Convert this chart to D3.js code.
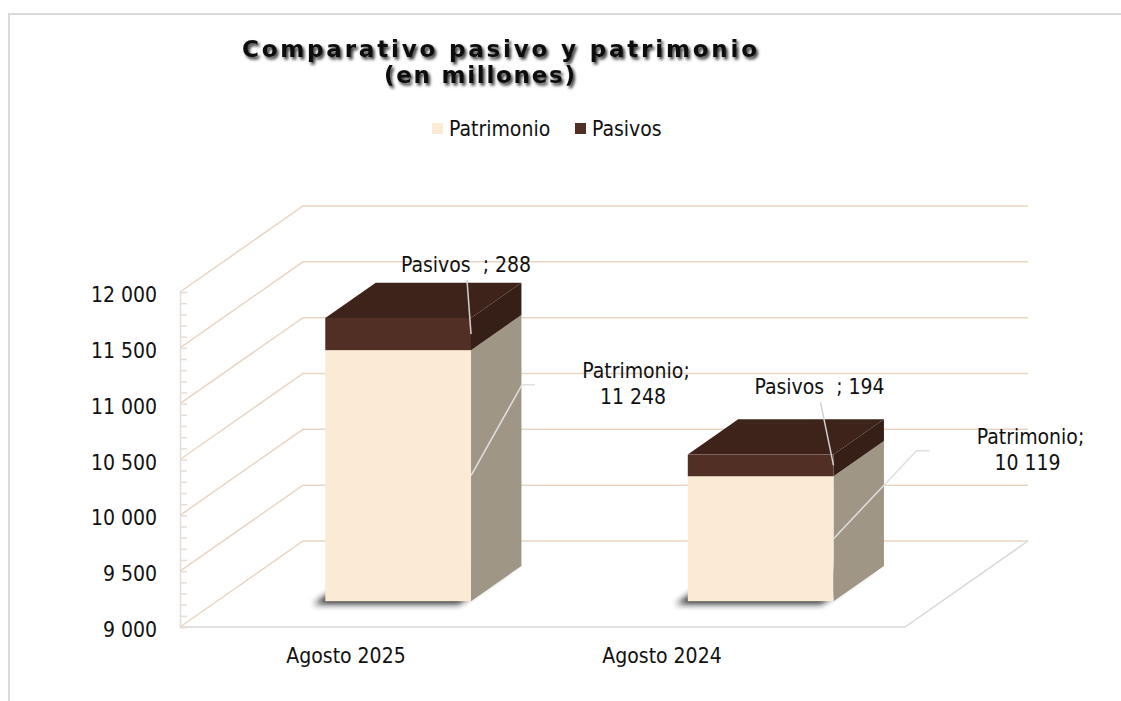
<!DOCTYPE html>
<html>
<head>
<meta charset="utf-8">
<script src="https://cdn.jsdelivr.net/npm/d3@7"></script>
<style>
  body { margin: 0; background: #fff; }
  svg { display: block; }
  text { font-family: "DejaVu Sans Condensed", "DejaVu Sans", sans-serif; font-stretch: condensed; fill: #111; white-space: pre; }
  .title { font-family: "DejaVu Sans", sans-serif; font-stretch: normal; font-weight: bold; font-size: 23px; }
</style>
</head>
<body>
<div class="graphContainer"></div>
<script>
// data
var categories = ["Agosto 2025", "Agosto 2024"];
var seriesNames = ["Patrimonio", "Pasivos"];
var patrimonio = [11248, 10119];
var pasivos = [288, 194];
var yTicks = [9000, 9500, 10000, 10500, 11000, 11500, 12000];

var width = 1121;
var height = 701;

var colors = {
  Patrimonio: { front: "#fcebd4", side: "#a09686", top: "#efdcc2" },
  Pasivos: { front: "#512f25", side: "#361f17", top: "#3e231a" }
};

var fmt = d3.formatLocale({ decimal: ",", thousands: " ", grouping: [3], currency: ["", ""] }).format(",d");

// plot frame (front plane) and depth
var left = 180, right = 905;
var DX = 123, DY = -86;      // full depth offset
var d0 = 0.3, d1 = 0.71;     // bar depth range

var svg = d3.select(".graphContainer").append("svg")
  .attr("width", width).attr("height", height);

var defs = svg.append("defs");
var ts = defs.append("filter").attr("id", "tshadow").attr("x", "-10%").attr("y", "-30%").attr("width", "120%").attr("height", "180%");
ts.append("feDropShadow").attr("dx", 2).attr("dy", 2.5).attr("stdDeviation", 1.8).attr("flood-color", "#000").attr("flood-opacity", 0.8);
var bs = defs.append("filter").attr("id", "bshadow").attr("x", "-20%").attr("y", "-50%").attr("width", "140%").attr("height", "200%");
bs.append("feGaussianBlur").attr("stdDeviation", 3);

// chart border
svg.append("path")
  .attr("d", "M9," + height + "V14H" + width)
  .attr("fill", "none").attr("stroke", "#d9d9d9").attr("stroke-width", 2);

var y = d3.scaleLinear().domain([9000, 12000]).range([627, 292]);
var x = d3.scaleBand().domain(categories).range([left, right]).paddingInner(0.598).paddingOuter(0.299);
var xLabel = d3.scaleBand().domain(categories).range([188, 820]);

function P(px, py, d) { return [px + d * DX, py + d * DY]; }
function poly(pts) { return "M" + pts.map(function (p) { return p[0] + "," + p[1]; }).join("L") + "Z"; }

// walls: left wall diagonals + back wall lines
var grid = svg.append("g");
yTicks.forEach(function (v) {
  var a = P(left, y(v), 0), b = P(left, y(v), 1), c = P(right, y(v), 1);
  grid.append("path")
    .attr("d", "M" + a + "L" + b + "L" + c)
    .attr("fill", "none").attr("stroke", "#e8d6c2").attr("stroke-width", 1.5);
});

// floor edges
var f1 = P(left, y(9000), 0), f2 = P(right, y(9000), 0), f3 = P(right, y(9000), 1);
svg.append("path")
  .attr("d", "M" + f1 + "L" + f2 + "L" + f3)
  .attr("fill", "none").attr("stroke", "#d9d9d9").attr("stroke-width", 1.5);

// y axis: line with minor ticks
var minor = d3.range(9000, 12001, 100);
svg.append("g")
  .attr("transform", "translate(" + left + ",0)")
  .call(d3.axisRight(y).tickValues(minor).tickSize(7).tickFormat(""))
  .call(function (g) {
    g.selectAll("line").attr("stroke", "#e4ded6").attr("stroke-width", 1.5);
    g.select(".domain").attr("stroke", "#e4ded6").attr("stroke-width", 1.5);
  });

svg.append("g")
  .attr("transform", "translate(" + left + ",0)")
  .call(d3.axisLeft(y).tickValues(yTicks).tickSize(0).tickPadding(23).tickFormat(fmt))
  .call(function (g) {
    g.select(".domain").remove();
    g.selectAll("text").attr("dy", null).attr("y", 9.5)
      .style("font-size", "21px").style("fill", "#111")
      .style("font-family", "'DejaVu Sans Condensed', 'DejaVu Sans', sans-serif");
  });

// x axis labels
svg.append("g")
  .attr("transform", "translate(0," + 663 + ")")
  .call(d3.axisBottom(xLabel).tickSize(0).tickPadding(0))
  .call(function (g) {
    g.select(".domain").remove();
    g.selectAll("text").attr("dy", null).attr("y", 0)
      .style("font-size", "21px").style("fill", "#111")
      .style("font-family", "'DejaVu Sans Condensed', 'DejaVu Sans', sans-serif");
  });

// stacked data
var table = categories.map(function (c, i) { return { cat: c, Patrimonio: patrimonio[i], Pasivos: pasivos[i] }; });
var stacked = d3.stack().keys(seriesNames)(table.map(function (r) {
  return { cat: r.cat, Patrimonio: r.Patrimonio - 9000, Pasivos: r.Pasivos };
}));

var bw = x.bandwidth();

// bar shadows
table.forEach(function (r) {
  var xl = x(r.cat), xr = xl + bw, yb = y(9000);
  var pts = [P(xl, yb, d0), P(xr, yb, d0), P(xr, yb, d1), P(xl, yb, d1)]
    .map(function (p) { return [p[0] - 12, p[1] + 3]; });
  svg.append("path").attr("d", poly(pts)).attr("fill", "#1a1a1a").attr("opacity", 0.9).attr("filter", "url(#bshadow)");
});

// bars
var bars = svg.append("g");
table.forEach(function (r, i) {
  var xl = x(r.cat), xr = xl + bw;
  stacked.forEach(function (s, k) {
    var c = colors[s.key];
    var v0 = s[i][0] + 9000, v1 = s[i][1] + 9000;
    var yb = y(v0), yt = y(v1);
    // side face
    bars.append("path")
      .attr("d", poly([P(xr, yt, d0), P(xr, yb, d0), P(xr, yb, d1), P(xr, yt, d1)]))
      .attr("fill", c.side);
    // top face (top segment only)
    if (k === stacked.length - 1) {
      bars.append("path")
        .attr("d", poly([P(xl, yt, d0), P(xr, yt, d0), P(xr, yt, d1), P(xl, yt, d1)]))
        .attr("fill", c.top);
    }
    // front face
    var a = P(xl, yt, d0), b = P(xr, yb, d0);
    bars.append("rect")
      .attr("x", a[0]).attr("y", a[1])
      .attr("width", b[0] - a[0]).attr("height", b[1] - a[1])
      .attr("fill", c.front);
  });
});

// data labels with leader lines (offsets from anchor on front-right edge)
var labelOffsets = {
  Pasivos: [[-5, -69], [-14, -78]],
  Patrimonio: [[165, -98], [197, -95]]
};
var labels = svg.append("g");
table.forEach(function (r, i) {
  var xr = x(r.cat) + bw;
  stacked.forEach(function (s) {
    var v0 = s[i][0] + 9000, v1 = s[i][1] + 9000;
    var anchor = P(xr, (y(v0) + y(v1)) / 2, d0);
    var off = labelOffsets[s.key][i];
    var lx = anchor[0] + off[0], ly = anchor[1] + off[1];
    var val = s.key === "Pasivos" ? pasivos[i] : patrimonio[i];
    if (s.key === "Pasivos") {
      labels.append("path")
        .attr("d", "M" + (lx + 1) + "," + (ly + 15) + "L" + anchor[0] + "," + anchor[1])
        .attr("fill", "none").attr("stroke", "#d0d0d0").attr("stroke-width", 1.5);
      labels.append("text")
        .attr("x", lx).attr("y", ly + 7)
        .attr("text-anchor", "middle").style("font-size", "21px")
        .text(s.key + "  ; " + fmt(val));
    } else {
      var ex = lx - 101, ey = ly + 7;
      labels.append("path")
        .attr("d", "M" + ex + "," + ey + "H" + (ex - 13) + "L" + anchor[0] + "," + anchor[1])
        .attr("fill", "none").attr("stroke", "#e0e0e0").attr("stroke-width", 1.5);
      var t = labels.append("text").attr("text-anchor", "middle").style("font-size", "21px");
      t.append("tspan").attr("x", lx).attr("y", ly).text(s.key + ";");
      t.append("tspan").attr("x", lx - 3).attr("y", ly + 26).text(fmt(val));
    }
  });
});

// title
svg.append("text").attr("class", "title")
  .attr("x", 242).attr("y", 57)
  .attr("textLength", 515).attr("lengthAdjust", "spacing")
  .attr("filter", "url(#tshadow)")
  .text("Comparativo pasivo y patrimonio");
svg.append("text").attr("class", "title")
  .attr("x", 384).attr("y", 83)
  .attr("textLength", 191).attr("lengthAdjust", "spacing")
  .attr("filter", "url(#tshadow)")
  .text("(en millones)");

// legend
var legend = svg.append("g");
var legendX = [432, 575];
seriesNames.forEach(function (n, i) {
  legend.append("rect")
    .attr("x", legendX[i]).attr("y", 123).attr("width", 11).attr("height", 11)
    .attr("fill", colors[n].front);
  legend.append("text")
    .attr("x", legendX[i] + 17).attr("y", 136)
    .style("font-size", "21px")
    .text(n);
});
</script>
</body>
</html>
